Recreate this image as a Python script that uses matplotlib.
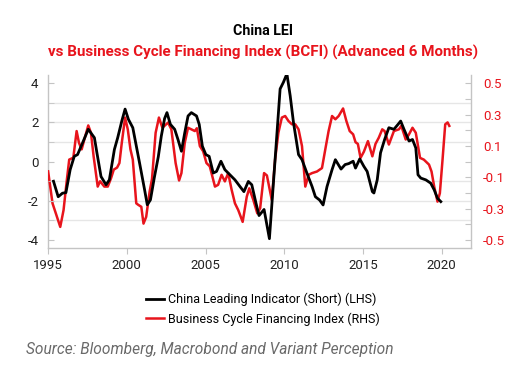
import matplotlib
matplotlib.use("Agg")
import matplotlib.pyplot as plt
from matplotlib.ticker import FixedLocator

plt.rcParams['font.family'] = ['Roboto', 'DejaVu Sans']
plt.rcParams['axes.unicode_minus'] = False

# China Leading Indicator (Short) (LHS)
lei_years = [1995.34, 1995.64, 1995.91, 1996.13, 1996.40, 1996.66, 1996.87, 1997.19, 1997.55, 1997.94,
             1998.10, 1998.36, 1998.68, 1998.89, 1999.21, 1999.42, 1999.68, 1999.89, 2000.10, 2000.38,
             2000.81, 2001.13, 2001.30, 2001.50, 2001.75, 2002.00, 2002.19, 2002.40, 2002.55, 2002.77,
             2003.04, 2003.25, 2003.47, 2003.68, 2003.89, 2004.10, 2004.43, 2004.60, 2004.80, 2005.02,
             2005.23, 2005.49, 2005.70, 2005.98, 2006.23, 2006.55, 2006.87, 2007.19, 2007.44, 2007.72,
             2007.94, 2008.21, 2008.40, 2008.72, 2009.06, 2009.42, 2009.74, 2009.95, 2010.17, 2010.38,
             2010.59, 2010.91, 2011.13, 2011.44, 2011.77, 2011.98, 2012.25, 2012.47, 2012.72, 2013.04,
             2013.25, 2013.61, 2013.87, 2014.10, 2014.38, 2014.53, 2014.80, 2015.06, 2015.27, 2015.60,
             2015.70, 2015.91, 2016.12, 2016.38, 2016.65, 2016.97, 2017.23, 2017.40, 2017.61, 2017.93,
             2018.15, 2018.36, 2018.50, 2018.68, 2019.00, 2019.31, 2019.53, 2019.74, 2019.95]
lei_values = [-1.00, -1.79, -1.61, -1.58, -0.41, 0.27, 0.36, 0.96, 1.65, 1.22,
              0.45, -0.76, -1.18, -0.93, 0.62, 1.22, 2.07, 2.68, 2.16, 1.73,
              -0.07, -1.44, -2.20, -1.95, -0.80, 0.25, 1.30, 2.20, 2.50, 1.90,
              1.65, 1.13, 0.53, 1.47, 2.33, 2.50, 2.33, 1.90, 0.79, 0.36,
              0.27, -0.58, -0.50, 0.02, -0.41, -0.67, -0.93, -1.27, -1.53, -1.01,
              -1.18, -2.13, -2.75, -2.44, -3.93, 0.10, 3.71, 4.05, 4.48, 3.36,
              1.99, 0.36, 0.10, -0.58, -1.27, -1.79, -1.96, -2.21, -1.27, -0.41,
              0.10, -0.38, -0.15, -0.10, 0.02, -0.33, 0.14, -0.24, -0.50, -1.53,
              -1.60, -0.93, 0.45, 1.13, 1.73, 1.65, 1.90, 2.07, 1.65, 1.05,
              1.13, 0.70, -0.67, -0.84, -0.93, -1.10, -1.44, -1.87, -2.04]

# Business Cycle Financing Index (RHS)
bcfi_years = [1995.00, 1995.28, 1995.49, 1995.77, 1995.98, 1996.19, 1996.34, 1996.60, 1996.81, 1996.96,
              1997.13, 1997.30, 1997.55, 1997.72, 1997.89, 1998.15, 1998.30, 1998.57, 1998.79, 1999.00,
              1999.17, 1999.38, 1999.53, 1999.68, 1999.89, 2000.06, 2000.23, 2000.38, 2000.60, 2000.72,
              2000.92, 2001.06, 2001.23, 2001.45, 2001.60, 2001.83, 2002.04, 2002.26, 2002.62, 2002.83,
              2003.10, 2003.32, 2003.47, 2003.68, 2003.89, 2004.10, 2004.32, 2004.45, 2004.64, 2004.85,
              2005.06, 2005.27, 2005.60, 2005.80, 2006.02, 2006.23, 2006.44, 2006.66, 2006.87, 2007.08,
              2007.36, 2007.62, 2007.78, 2008.04, 2008.29, 2008.47, 2008.72, 2008.90, 2009.21, 2009.42,
              2009.63, 2009.85, 2010.06, 2010.27, 2010.49, 2010.70, 2010.91, 2011.13, 2011.34, 2011.55,
              2011.77, 2012.08, 2012.40, 2012.61, 2012.82, 2013.04, 2013.25, 2013.46, 2013.74, 2013.95,
              2014.16, 2014.38, 2014.53, 2014.68, 2014.85, 2015.06, 2015.32, 2015.60, 2015.80, 2016.01,
              2016.23, 2016.38, 2016.65, 2016.97, 2017.29, 2017.44, 2017.72, 2017.93, 2018.15, 2018.36,
              2018.63, 2018.87, 2019.20, 2019.36, 2019.53, 2019.74, 2019.89, 2020.06, 2020.23, 2020.38,
              2020.49]
bcfi_values = [-0.062, -0.266, -0.330, -0.416, -0.309, -0.116, 0.013, 0.025, 0.195, 0.120,
               0.078, 0.141, 0.231, 0.184, 0.034, -0.159, -0.125, -0.159, -0.159, -0.105,
               -0.051, -0.038, -0.009, 0.120, 0.281, 0.206, 0.078, 0.013, -0.266, -0.275,
               -0.288, -0.395, -0.352, -0.190, -0.110, 0.184, 0.281, 0.216, 0.249, 0.206,
               -0.009, -0.120, -0.073, 0.120, 0.216, 0.206, 0.195, 0.213, 0.099, 0.066,
               -0.009, -0.030, -0.159, -0.148, -0.084, -0.126, -0.073, -0.180, -0.266, -0.309,
               -0.384, -0.224, -0.170, -0.245, -0.330, -0.298, -0.073, -0.088, -0.245, 0.013,
               0.184, 0.281, 0.291, 0.259, 0.238, 0.238, 0.206, 0.099, -0.159, -0.084,
               -0.073, -0.063, -0.041, 0.078, 0.195, 0.291, 0.270, 0.291, 0.339, 0.259,
               0.195, 0.174, 0.124, 0.113, 0.024, 0.063, 0.131, 0.034, 0.113, 0.153,
               0.206, 0.195, 0.109, 0.195, 0.206, 0.228, 0.141, 0.174, 0.216, 0.184,
               0.024, 0.013, -0.019, -0.063, -0.159, -0.255, -0.201, 0.013, 0.238, 0.250,
               0.228]

x_ticks = [1995, 2000, 2005, 2010, 2015, 2020]
left_major = [-4, -2, 0, 2, 4]
left_minor = [-3, -1, 1, 3]
right_ticks = [-0.5, -0.4, -0.3, -0.2, -0.1, 0.0, 0.1, 0.2, 0.3, 0.4, 0.5]
right_labels = ["-0.5", "", "-0.3", "", "-0.1", "", "0.1", "", "0.3", "", "0.5"]

RED = '#e8141c'
GRID = '#e6e6e6'
SPINE = '#c4c4c4'

fig = plt.figure(figsize=(5.26, 3.77), dpi=100)
ax = fig.add_axes([0.0915, 0.3414, 0.8034, 0.4597])   # red, right axis
ax2 = ax.twinx()                                        # black, left axis

# red series on right axis
ax.plot(bcfi_years, bcfi_values, color=RED, lw=1.8, zorder=3,
        solid_joinstyle='round', label='Business Cycle Financing Index (RHS)')
ax.set_ylim(-0.5525, 0.5525)
ax.yaxis.tick_right()
ax.set_yticks(right_ticks)
ax.set_yticklabels(right_labels)
ax.tick_params(axis='y', which='major', direction='in', length=4, color=SPINE,
               labelcolor=RED, labelsize=9.5, pad=9)
# horizontal grid at left-axis integer positions (1 LHS unit = 0.125 RHS)
ax.yaxis.set_minor_locator(FixedLocator([-0.5, -0.375, -0.25, -0.125, 0.0, 0.125, 0.25, 0.375, 0.5]))
ax.tick_params(axis='y', which='minor', length=0)
ax.grid(axis='y', which='minor', color=GRID, lw=1.0, zorder=0)
ax.grid(axis='y', which='major', visible=False)
ax.set_axisbelow(True)

ax.set_xlim(1995, 2021.85)
ax.set_xticks(x_ticks)
ax.tick_params(axis='x', direction='out', length=4, color=SPINE, labelcolor='#222222',
               labelsize=9.5, pad=4)

for s in ['left', 'right', 'bottom']:
    ax.spines[s].set_color(SPINE)
    ax.spines[s].set_linewidth(1.0)
ax.spines['top'].set_visible(False)

# black series on left axis
ax2.plot(lei_years, lei_values, color='black', lw=2.0, zorder=4,
         solid_joinstyle='round', label='China Leading Indicator (Short) (LHS)')
ax2.set_ylim(-4.42, 4.42)
ax2.yaxis.set_ticks_position('left')
ax2.yaxis.set_label_position('left')
ax2.set_yticks(left_major)
ax2.set_yticks(left_minor, minor=True)
ax2.tick_params(axis='y', which='both', direction='in', length=4, color=SPINE,
                labelcolor='#222222', labelsize=9.5, pad=7)
for s in ax2.spines.values():
    s.set_visible(False)

fig.text(0.5, 0.918, 'China LEI', ha='center', va='center', fontsize=10.3,
         fontweight='bold', color='black')
fig.text(0.5, 0.860, 'vs Business Cycle Financing Index (BCFI) (Advanced 6 Months)',
         ha='center', va='center', fontsize=10.9, fontweight='bold', color=RED)

h1, l1 = ax2.get_legend_handles_labels()
h0, l0 = ax.get_legend_handles_labels()
fig.legend(h1 + h0, l1 + l0, loc='center', bbox_to_anchor=(0.5, 0.18),
           frameon=False, fontsize=9, handlelength=1.45, handletextpad=0.35,
           labelspacing=0.5)

fig.text(0.049, 0.074, 'Source: Bloomberg, Macrobond and Variant Perception',
         ha='left', va='center', fontsize=11.2, style='italic',
         color='#6a6a6a')

fig.savefig('out.png', dpi=100)
